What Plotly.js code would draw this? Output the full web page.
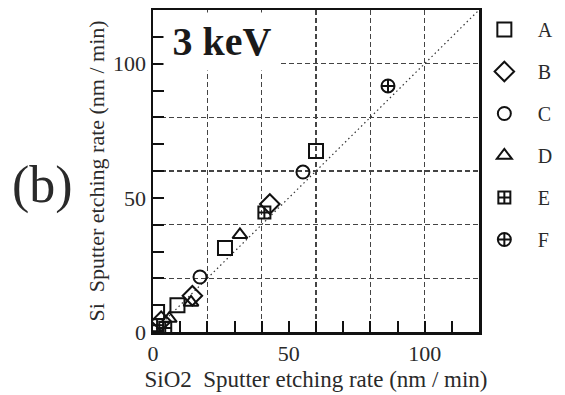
<!DOCTYPE html>
<html><head><meta charset="utf-8">
<script src="https://cdn.plot.ly/plotly-3.0.1.min.js"></script>
<style>html,body{margin:0;padding:0;background:#fff;}#chart{width:565px;height:395px;}</style>
</head><body><div id="chart"></div>
<script>
// Series names and symbols
var seriesNames = ['A', 'B', 'C', 'D', 'E', 'F'];
var seriesSymbols = ['square-open', 'diamond-open', 'circle-open', 'triangle-up-open', 'square-cross-open', 'circle-cross-open'];
var seriesSizes = [14, 15, 13, 13, 12, 13];
// SiO2 etching rate (x) and Si etching rate (y), nm/min
var xA = [1.5, 9, 26.5, 60];
var yA = [7.5, 10, 31.3, 67.5];
var xB = [3, 14.5, 43];
var yB = [4, 13.5, 47.7];
var xC = [17.3, 55.2];
var yC = [20.5, 59.6];
var xD = [6, 14, 32];
var yD = [5, 11, 36.2];
var xE = [1.5, 4.5, 41];
var yE = [2.5, 1.5, 44.5];
var xF = [86.5];
var yF = [91.7];
// y = x reference line
var diagX = [0, 120];
var diagY = [0, 120];
// axis ticks
var tickVals = [0, 10, 20, 30, 40, 50, 60, 70, 80, 90, 100, 110, 120];
var tickText = ['0', '', '', '', '', '50', '', '', '', '', '100', '', ''];

var xs = [xA, xB, xC, xD, xE, xF];
var ys = [yA, yB, yC, yD, yE, yF];
var ink = '#111';
var txt = '#2a2a2a';
var serif = 'Liberation Serif, Times New Roman, serif';

var traces = [{
  x: diagX, y: diagY, mode: 'lines', showlegend: false, hoverinfo: 'skip',
  line: {color: '#333', width: 1.2, dash: '1.5px,3px'}
}];
for (var i = 0; i < seriesNames.length; i++) {
  traces.push({
    x: xs[i], y: ys[i], name: seriesNames[i], mode: 'markers', legendgroup: seriesNames[i],
    marker: {symbol: seriesSymbols[i], size: seriesSizes[i], color: ink, line: {color: ink, width: 2}}
  });
}

function axis() {
  return {
    range: [0, 120], tickmode: 'array', tickvals: tickVals, ticktext: tickText,
    ticks: 'inside', ticklen: 11, tickwidth: 2, tickcolor: ink,
    showline: true, linecolor: ink, linewidth: 2.5, mirror: true,
    showgrid: false, zeroline: false,
    tickfont: {family: serif, size: 22, color: txt},
    minor: {tickmode: 'linear', tick0: 0, dtick: 20, showgrid: true, gridcolor: '#444', gridwidth: 1.2, griddash: '5px,3px', ticks: ''}
  };
}
var xa = axis();
xa.title = {text: 'SiO2  Sputter etching rate (nm / min)', font: {family: serif, size: 23, color: txt}, standoff: 6};
var ya = axis();
ya.title = {text: 'Si  Sputter etching rate (nm / min)', font: {family: serif, size: 22, color: txt}, standoff: 3};

var layout = {
  width: 565, height: 395,
  margin: {l: 153, r: 86, t: 10, b: 63, autoexpand: false},
  paper_bgcolor: '#fff', plot_bgcolor: '#fff',
  xaxis: xa, yaxis: ya,
  showlegend: true,
  legend: {x: 0.975, xanchor: 'left', y: 1.0, yanchor: 'top', itemwidth: 57, tracegroupgap: 13,
    font: {family: serif, size: 20, color: txt}, bgcolor: 'rgba(0,0,0,0)'},
  annotations: [
    {xref: 'paper', yref: 'paper', x: 0, y: 1, xanchor: 'left', yanchor: 'top', xshift: 10, yshift: -2,
     width: 114, height: 55, bgcolor: '#fff', showarrow: false,
     text: '<b>3 keV</b>', font: {family: serif, size: 40, color: '#1a1a1a'}},
    {xref: 'paper', yref: 'paper', x: -0.44, y: 0.456, xanchor: 'left', yanchor: 'middle', showarrow: false,
     text: '(b)', font: {family: serif, size: 52, color: txt}}
  ]
};
Plotly.newPlot('chart', traces, layout, {displayModeBar: false, staticPlot: true});
</script></body></html>
